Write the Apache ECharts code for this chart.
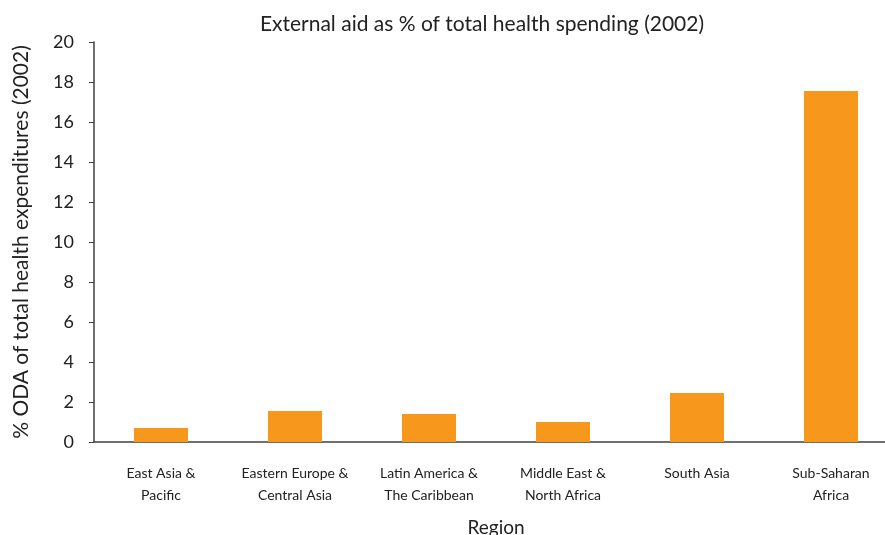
<!DOCTYPE html>
<html>
<head>
<meta charset="utf-8">
<script src="https://cdn.jsdelivr.net/npm/echarts@6/dist/echarts.min.js"></script>
<style>
  html, body { margin: 0; padding: 0; background: #fff; }
  #main { width: 885px; height: 535px; }
</style>
</head>
<body>
<div id="main"></div>
<script>
// regions along the x axis
var regions = [
  'East Asia &\nPacific',
  'Eastern Europe &\nCentral Asia',
  'Latin America &\nThe Caribbean',
  'Middle East &\nNorth Africa',
  'South Asia',
  'Sub-Saharan\nAfrica'
];
// % ODA of total health expenditures
var odaShare = [0.7, 1.55, 1.4, 1.0, 2.45, 17.55];

var FONT = 'Lato, "Open Sans", sans-serif';
var chart = echarts.init(document.getElementById('main'));

chart.setOption({
  animation: false,
  textStyle: { fontFamily: FONT },
  title: {
    text: 'External aid as % of total health spending (2002)',
    left: 477, top: 9, textAlign: 'center',
    textStyle: { fontSize: 21, fontWeight: 'normal', color: '#222', fontFamily: FONT }
  },
  // plot runs a little past the right edge of the picture
  grid: { left: 94, width: 804, top: 42, bottom: 93, outerBoundsMode: 'none', containLabel: false },
  xAxis: {
    type: 'category',
    data: regions,
    name: 'Region',
    nameLocation: 'middle',
    nameGap: 76,
    nameTextStyle: { fontSize: 19, color: '#222' },
    axisLine: { lineStyle: { color: '#404040', width: 1.5 } },
    axisTick: { length: 5, lineStyle: { color: '#404040' } },
    axisLabel: { interval: 0, margin: 20, fontSize: 14, lineHeight: 22, color: '#222' }
  },
  yAxis: {
    type: 'value',
    min: 0, max: 20, interval: 2,
    name: '% ODA of total health expenditures (2002)',
    nameLocation: 'middle',
    nameGap: 62,
    nameTextStyle: { fontSize: 21, color: '#222' },
    axisLine: { show: true, lineStyle: { color: '#404040', width: 1.5 } },
    axisTick: { show: true, length: 5, lineStyle: { color: '#404040' } },
    axisLabel: { margin: 20, fontSize: 18, color: '#222' },
    splitLine: { show: false }
  },
  series: [{
    type: 'bar',
    data: odaShare,
    barWidth: 54,
    itemStyle: { color: '#F7981D' }
  }]
});
</script>
</body>
</html>
